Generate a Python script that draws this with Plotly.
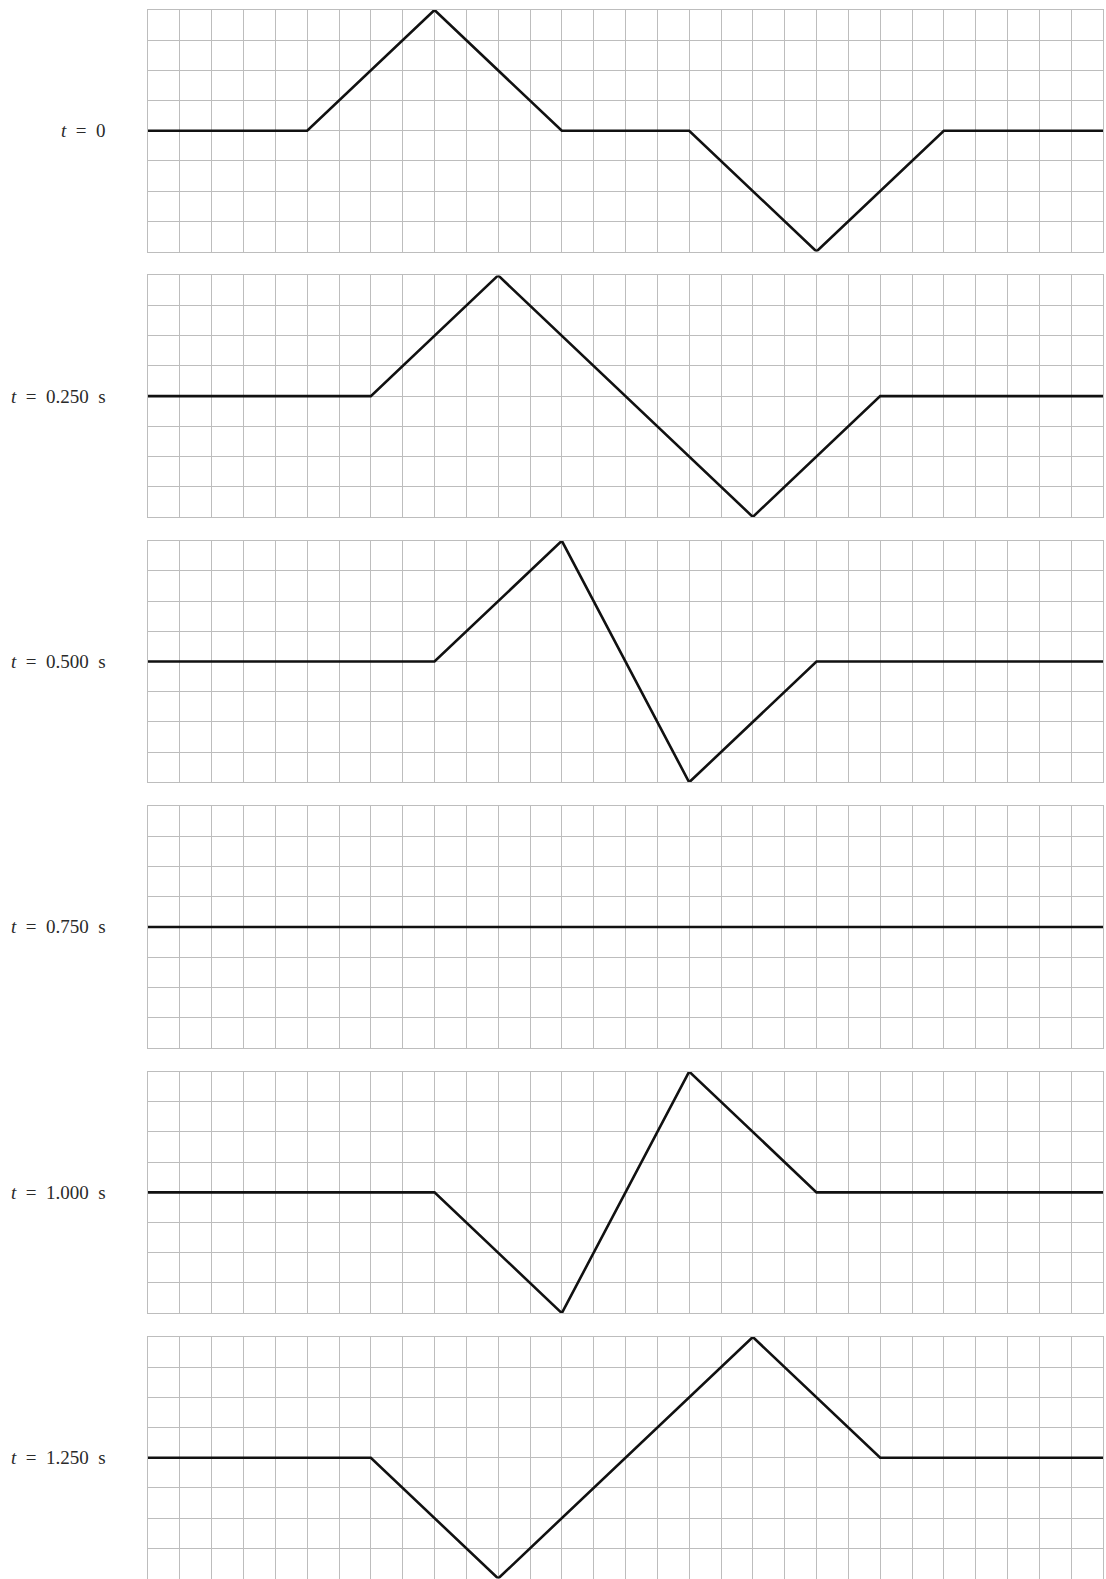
import plotly.graph_objects as go

W, H = 1106, 1579
OFF = 0  # body margin removed via post_script

S = "\u2002"
labels = [f"<i>t</i>{S}={S}0", f"<i>t</i>{S}={S}0.250{S}s", f"<i>t</i>{S}={S}0.500{S}s",
          f"<i>t</i>{S}={S}0.750{S}s", f"<i>t</i>{S}={S}1.000{S}s", f"<i>t</i>{S}={S}1.250{S}s"]

x0 = [0, 5, 9, 13, 17, 21, 25, 30]
y0 = [0, 0, 4, 0, 0, -4, 0, 0]
x1 = [0, 7, 11, 19, 23, 30]
y1 = [0, 0, 4, -4, 0, 0]
x2 = [0, 9, 13, 17, 21, 30]
y2 = [0, 0, 4, -4, 0, 0]
x3 = [0, 30]
y3 = [0, 0]
x4 = [0, 9, 13, 17, 21, 30]
y4 = [0, 0, -4, 4, 0, 0]
x5 = [0, 7, 11, 19, 23, 30]
y5 = [0, 0, -4, 4, 0, 0]

xs = [x0, x1, x2, x3, x4, x5]
ys = [y0, y1, y2, y3, y4, y5]

fig = go.Figure()
left_px, right_px = 148 - OFF, 1103 - OFF
top0, ph, period = 10 - OFF, 241.5, 265.4
grid = "#bdbdbd"
font = "Liberation Serif"

for i in range(6):
    n = "" if i == 0 else str(i + 1)
    top = top0 + i * period
    bot = top + ph
    fig.add_trace(go.Scatter(x=xs[i], y=ys[i], mode="lines",
                             line=dict(color="#111111", width=2.6),
                             xaxis="x" + n, yaxis="y" + n, showlegend=False,
                             hoverinfo="skip"))
    fig.layout["xaxis" + n] = dict(domain=[left_px / W, right_px / W], range=[0, 30],
                                   anchor="y" + n, dtick=1, tick0=0, showgrid=True,
                                   gridcolor=grid, gridwidth=1, showticklabels=False,
                                   ticks="", zeroline=False, showline=True, mirror=True,
                                   linecolor=grid, linewidth=1, fixedrange=True)
    fig.layout["yaxis" + n] = dict(domain=[1 - bot / H, 1 - top / H], range=[-4, 4],
                                   anchor="x" + n, dtick=1, tick0=0, showgrid=True,
                                   gridcolor=grid, gridwidth=1, showticklabels=False,
                                   ticks="", zeroline=False, showline=True, mirror=True,
                                   linecolor=grid, linewidth=1, fixedrange=True)
    fig.add_annotation(text=labels[i], xref="paper", x=(108 - OFF) / W, xanchor="right",
                       yref="y" + n, y=0, yanchor="middle", showarrow=False,
                       font=dict(family=font, size=19, color="#2a2a2a"))

fig.update_layout(width=W, height=H, margin=dict(l=0, r=0, t=0, b=0),
                  paper_bgcolor="white", plot_bgcolor="white", hovermode=False)
fig.write_html("out.html", config={"displayModeBar": False, "staticPlot": True},
               post_script="document.body.style.margin='0';document.body.style.overflow='hidden';")
